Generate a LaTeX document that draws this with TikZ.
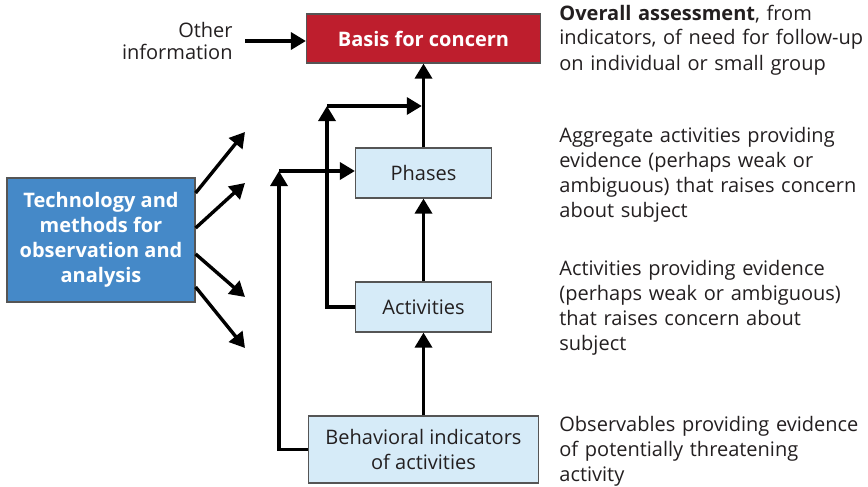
\documentclass[tikz,border=0pt]{standalone}
\usepackage{fontspec}
\setmainfont{Open Sans}
\usetikzlibrary{arrows.meta}
\definecolor{concernred}{HTML}{BE1E2D}
\definecolor{techblue}{HTML}{4589C8}
\definecolor{levelblue}{HTML}{D6EBF8}
\definecolor{boxline}{HTML}{555555}
\definecolor{inktext}{HTML}{231F20}
\tikzset{
  level/.style={draw=boxline, fill=levelblue, line width=0.6pt, inner sep=0pt,
    align=center, text=inktext},
  flow/.style={line width=1.7pt, -{Triangle[length=7.5pt,width=8.5pt]}},
  note/.style={anchor=base west, inner sep=0pt, text width=170pt, align=left,
    text=inktext},
}
\begin{document}
\begin{tikzpicture}[x=0.5pt,y=-0.5pt,font=\fontsize{10}{12.5}\selectfont]
        \useasboundingbox (0,0) rectangle (868,487);
        % boxes of the ladder
        \node[draw=boxline, fill=concernred, text=white, line width=0.6pt,
          font=\fontsize{10}{12.5}\selectfont\bfseries,
          minimum width=117pt, minimum height=24.5pt] (basis) at (423.5,38.5) {Basis for concern};
        \node[level, minimum width=68pt, minimum height=25pt] (phases) at (423.5,173) {Phases};
        \node[level, minimum width=68pt, minimum height=25pt] (act) at (423.5,307) {Activities};
        \node[level, minimum width=115pt, minimum height=33.5pt] (behav) at (423.5,449.5)
          {Behavioral indicators\\ of activities};
        \node[draw=boxline, fill=techblue, text=white, line width=0.6pt, align=center,
          font=\fontsize{10}{12.5}\selectfont\bfseries,
          minimum width=94pt, minimum height=62pt, inner sep=0pt] (tech) at (101,240)
          {Technology and\\ methods for\\ observation and\\ analysis};
        \node[anchor=east, align=right, inner sep=0pt, text=inktext,
          font=\fontsize{10}{10.5}\selectfont] (other) at (233,41) {Other\\ information};
        % arrows
        \draw[flow] ([xshift=6pt]other.east) -- (other.east -| basis.west);
        \draw[flow] (phases) -- (basis);
        \draw[flow] (act) -- (phases);
        \draw[flow] (behav) -- (act);
        \coordinate (bend1) at (279,171);
        \coordinate (bend2) at (327,106);
        \draw[flow] (behav.west) -| (bend1);
        \draw[flow] (bend1) -- (bend1 -| phases.west);
        \draw[flow] (act.west) -| (bend2);
        \draw[flow, shorten >=0.85pt] (bend2) -- (bend2 -| basis.south);
        \foreach \dy/\ey [count=\i] in {23.5/132, 6/183, -7/297, -23.5/348} {
          \coordinate (obs\i) at (245,\ey);
          \draw[flow] ([yshift=\dy pt]tech.east) -- (obs\i);
        }
        % notes on the right
        \node[note] (n1) at (559,20) {\textbf{Overall assessment}, from\\ indicators, of need for follow-up\\ on individual or small group};
        \node[note] (n2) at (559,142) {Aggregate activities providing\\ evidence (perhaps weak or\\ ambiguous) that raises concern\\ about subject};
        \node[note] (n3) at (559,275) {Activities providing evidence\\ (perhaps weak or ambiguous)\\ that raises concern about\\ subject};
        \node[note] (n4) at (559,431) {Observables providing evidence\\ of potentially threatening\\ activity};
\end{tikzpicture}
\end{document}
